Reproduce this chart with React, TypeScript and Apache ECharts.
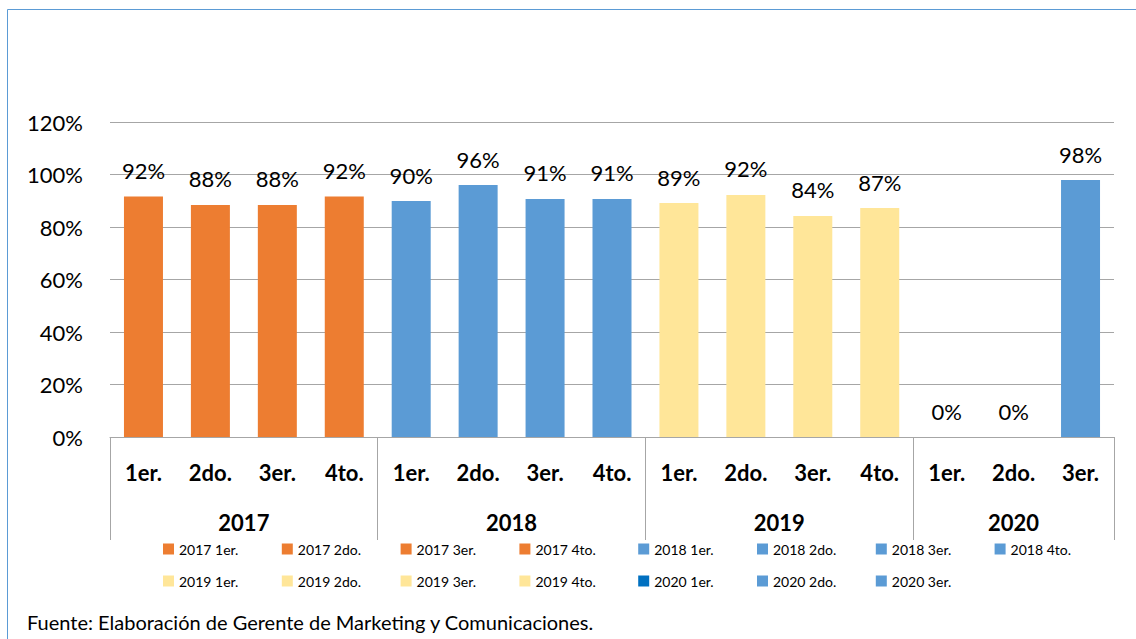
import React, { useEffect, useRef } from "react";
import * as echarts from "echarts";

const quarters = ["1er.", "2do.", "3er.", "4to.", "1er.", "2do.", "3er.", "4to.", "1er.", "2do.", "3er.", "4to.", "1er.", "2do.", "3er."];
const seriesNames = [
  "2017 1er.", "2017 2do.", "2017 3er.", "2017 4to.",
  "2018 1er.", "2018 2do.", "2018 3er.", "2018 4to.",
  "2019 1er.", "2019 2do.", "2019 3er.", "2019 4to.",
  "2020 1er.", "2020 2do.", "2020 3er.",
];
const values = [0.916, 0.884, 0.884, 0.916, 0.899, 0.96, 0.907, 0.907, 0.891, 0.922, 0.842, 0.872, 0, 0, 0.979];
const colors = [
  "#ed7d31", "#ed7d31", "#ed7d31", "#ed7d31",
  "#5b9bd5", "#5b9bd5", "#5b9bd5", "#5b9bd5",
  "#ffe699", "#ffe699", "#ffe699", "#ffe699",
  "#0070c0", "#5b9bd5", "#5b9bd5",
];
const years = ["2017", "2018", "2019", "2020"];
const yearCenters = [2, 6, 10, 13.5];
const yearBounds = [0, 4, 8, 12, 15];
const footer = "Fuente: Elaboración de Gerente de Marketing y Comunicaciones.";

const FONT = "Lato, 'Open Sans', sans-serif";

export default function App() {
  const ref = useRef<HTMLDivElement>(null);
  useEffect(() => {
    document.body.style.margin = "0";
    const chart = echarts.init(ref.current!, null, { renderer: "svg" });
    const series = seriesNames.map((name, i) => ({
      name,
      type: "bar",
      stack: "all",
      barWidth: 39,
      xAxisIndex: 0,
      itemStyle: { color: colors[i] },
      label: {
        show: true,
        position: "top",
        distance: 15,
        fontFamily: FONT,
        fontSize: 22,
        color: "#000",
        formatter: (p: any) => Math.round(p.value * 100) + "%",
      },
      data: values.map((v, j) => (j === i ? v : "-")),
    }));
    const legends = seriesNames.map((name, i) => ({
      left: 158 + (i % 8) * 118.8,
      top: i < 8 ? 537 : 569,
      orient: "horizontal",
      itemWidth: 11,
      itemHeight: 11,
      icon: "rect",
      textStyle: { fontFamily: FONT, fontSize: 14, color: "#000" },
      data: [name],
    }));
    chart.setOption({
      animation: false,
      backgroundColor: "#fff",
      grid: { left: 110, right: 22, top: 122, bottom: 202 },
      legend: legends,
      xAxis: [
        {
          type: "category",
          data: quarters,
          axisLine: { show: true, lineStyle: { color: "#a6a6a6" } },
          axisTick: { show: false },
          axisLabel: {
            fontFamily: FONT,
            fontSize: 22,
            fontWeight: "bold",
            color: "#000",
            margin: 24,
          },
        },
        {
          type: "value",
          position: "bottom",
          min: 0,
          max: 15,
          axisLine: { show: false },
          splitLine: { show: false },
          axisTick: {
            show: true,
            length: 103,
            customValues: yearBounds,
            lineStyle: { color: "#a6a6a6" },
          },
          axisLabel: {
            customValues: yearCenters,
            formatter: (v: number) => years[yearCenters.indexOf(v)] ?? "",
            fontFamily: FONT,
            fontSize: 22,
            fontWeight: "bold",
            color: "#000",
            margin: 74,
          },
        },
      ],
      yAxis: {
        type: "value",
        min: 0,
        max: 1.2,
        interval: 0.2,
        axisLine: { show: false },
        axisTick: { show: false },
        splitLine: { lineStyle: { color: "#a6a6a6" } },
        axisLabel: {
          fontFamily: FONT,
          fontSize: 22,
          color: "#000",
          margin: 27,
          formatter: (v: number) => Math.round(v * 100) + "%",
        },
      },
      graphic: [
        {
          type: "rect",
          shape: { x: 7.5, y: 9.5, width: 1140, height: 640 },
          style: { fill: "none", stroke: "#5b9bd5", lineWidth: 1 },
          silent: true,
        },
        {
          type: "text",
          left: 27,
          top: 612,
          style: { text: footer, fontFamily: FONT, fontSize: 20, fill: "#000" },
        },
      ],
      series,
    });
    return () => chart.dispose();
  }, []);
  return <div ref={ref} style={{ width: 1136, height: 639, position: "absolute", left: 0, top: 0 }} />;
}
